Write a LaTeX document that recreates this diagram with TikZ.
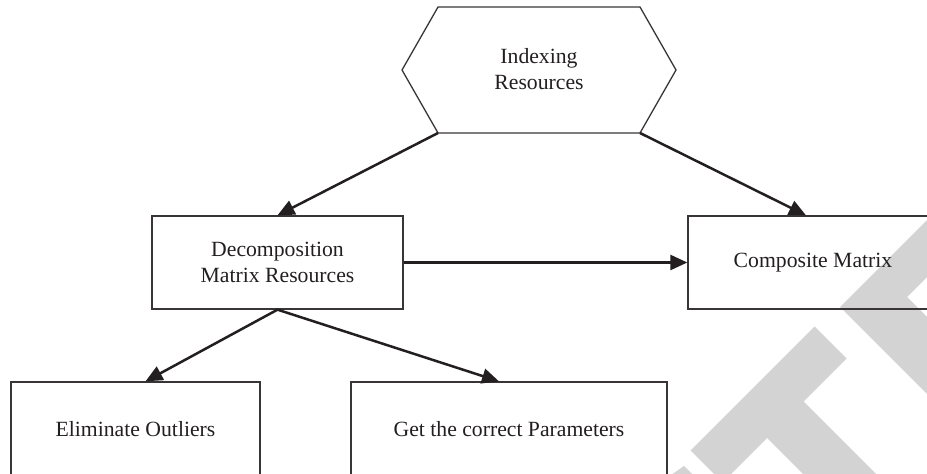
\documentclass[tikz,border=0pt]{standalone}
\usepackage{fontspec}
\setmainfont{Liberation Serif}
\usetikzlibrary{arrows.meta,calc}
\definecolor{ink}{HTML}{231F20}
\definecolor{wm}{RGB}{211,211,211}
\begin{document}
\begin{tikzpicture}[x=1pt,y=-1pt,
  txt/.style={align=center, text=ink, inner sep=0pt, font=\fontsize{21.7}{25.5}\selectfont},
  box/.style={txt, draw=ink!90, line width=1.3pt, minimum height=93pt},
  conn/.style={draw=ink, line width=2.5pt, -{Triangle[length=17pt,width=15pt]}}]
\useasboundingbox (0,0) rectangle (927,474);
\clip (0,0) rectangle (927,474);
% watermark fragments
\fill[wm] (840,307) -- (980,167) -- (1037,167) -- (907,297) -- (1000,390) -- (1000,467) -- cycle;
\fill[wm] (814.5,326.5) -- (846.5,358.5) -- (803.5,401.5) -- (941,539) -- (904.5,575.5) -- (767,438) -- (722.5,482.5) -- (690.5,450.5) -- cycle;
\fill[wm] (671,475) -- (684,466) -- (693,475) -- cycle;
% hexagon
\coordinate (hTL) at (438,7);
\coordinate (hTR) at (640,7);
\coordinate (hR) at (676,70);
\coordinate (hBR) at (640,133);
\coordinate (hBL) at (438,133);
\coordinate (hL) at (402,70);
\draw[draw=ink!90, line width=1.3pt] (hTL) -- (hTR) -- (hR) -- (hBR) -- (hBL) -- (hL) -- cycle;
\node[txt] (hex) at (539,69) {Indexing\\Resources};
% boxes
\node[box, minimum width=251pt] (dec) at (277.5,262.5) {Decomposition\\Matrix Resources};
\node[box, minimum width=250pt] (comp) at (813,262.5) {Composite Matrix};
\node[box, minimum width=249pt, minimum height=94pt] (elim) at (135.5,429) {Eliminate Outliers};
\node[box, minimum width=316pt, minimum height=94pt] (get) at (509,429) {Get the correct Parameters};
% connectors
\draw[conn] (hBL) -- (dec.north);
\draw[conn] (hBR) -- ($(comp.north)+(-7,0)$);
\draw[conn] (dec.east) -- (comp.west);
\draw[conn] (dec.south) -- ($(elim.north)+(10,0)$);
\draw[conn] (dec.south) -- ($(get.north)+(-10,0)$);
\end{tikzpicture}
\end{document}
